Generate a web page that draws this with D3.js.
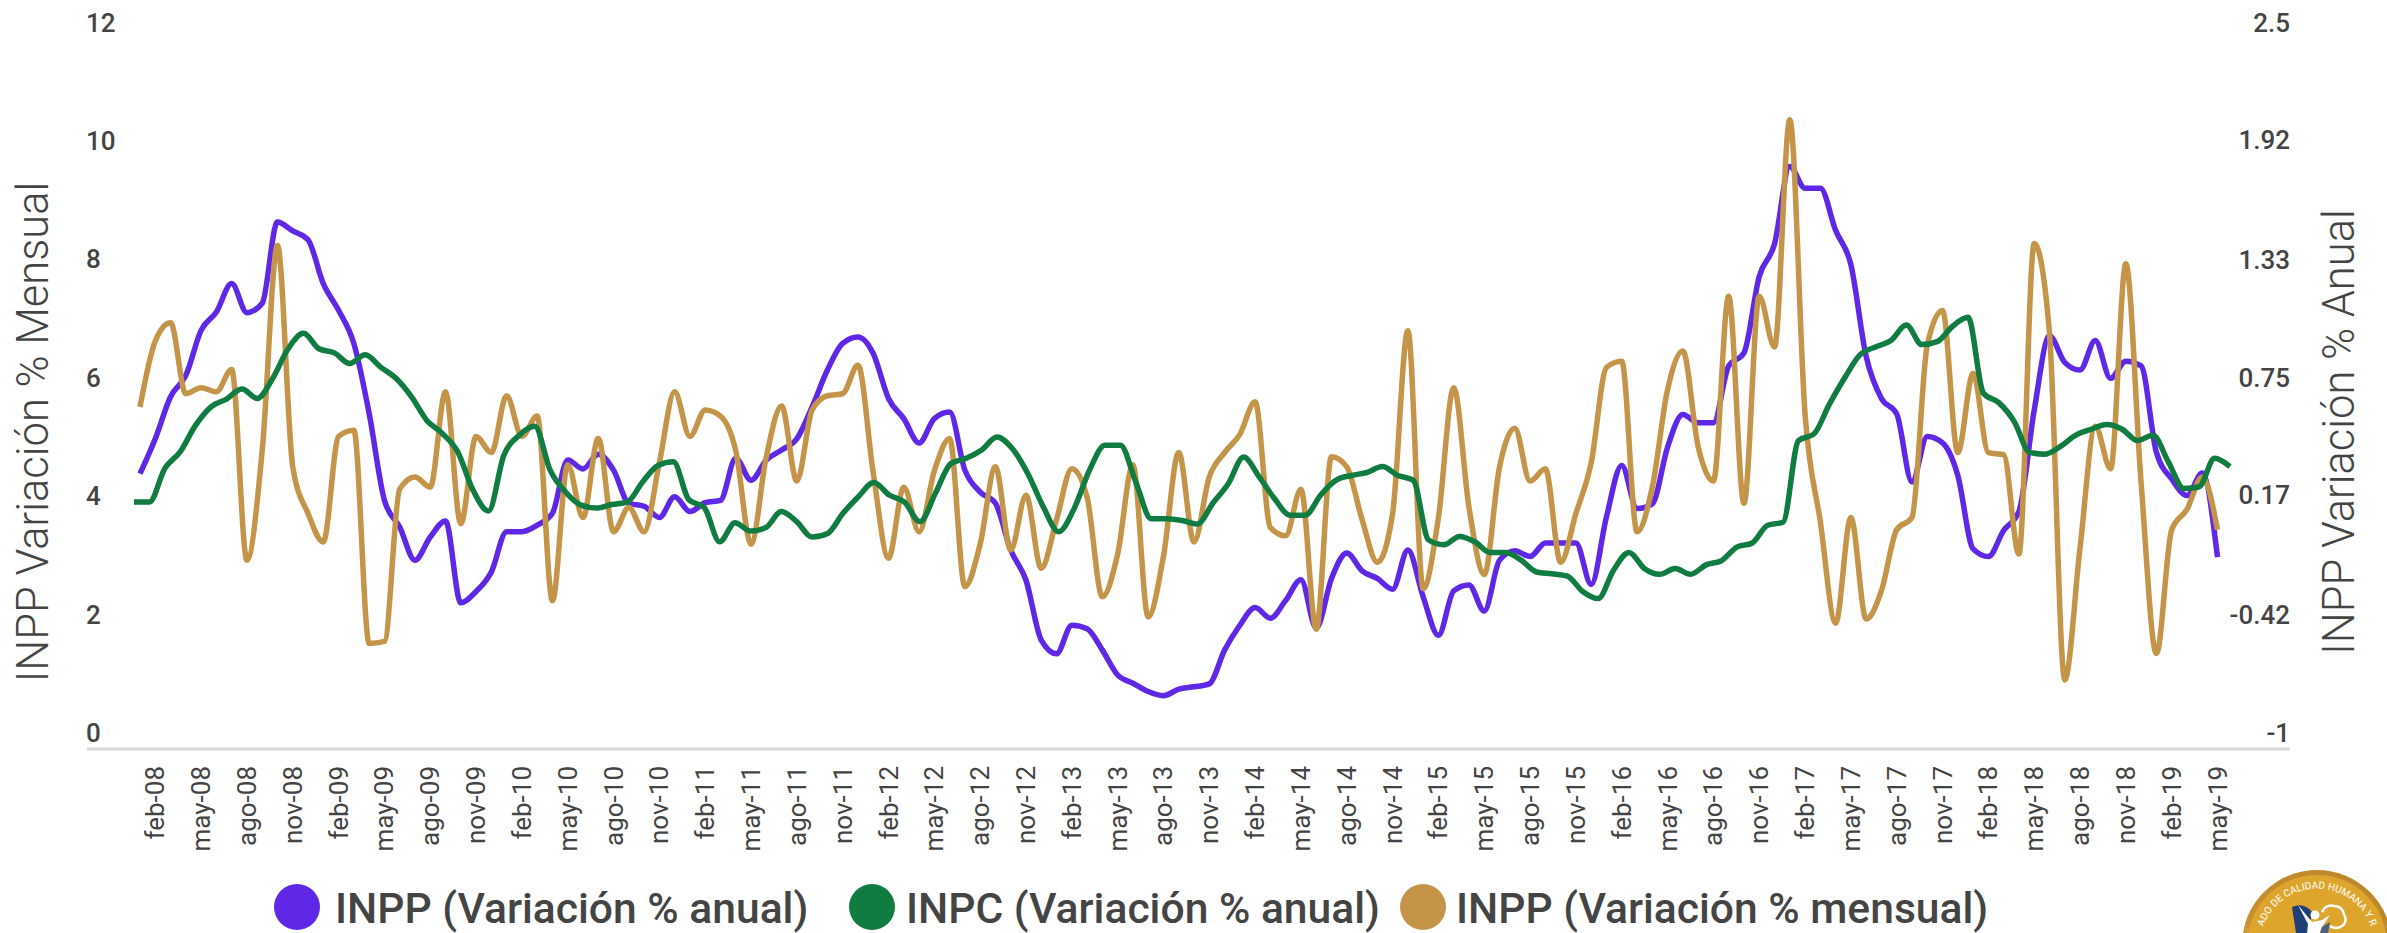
<!DOCTYPE html>
<html><head><meta charset="utf-8">
<script src="https://cdnjs.cloudflare.com/ajax/libs/d3/7.8.5/d3.min.js"></script>
<style>html,body{margin:0;padding:0;background:#fff;overflow:hidden}svg{display:block}text{font-family:Roboto,sans-serif}</style>
</head><body><svg id="c" width="2387" height="933"></svg>
<script>
const monthNames = ["ene","feb","mar","abr","may","jun","jul","ago","sep","oct","nov","dic"];
const startYear = 2008;
const inppAnual = [4.65,5.24,5.95,6.31,7.07,7.38,7.86,7.37,7.53,8.90,8.75,8.60,7.86,7.41,6.85,5.67,4.20,3.75,3.19,3.58,3.85,2.47,2.66,2.99,3.67,3.67,3.78,3.98,4.88,4.73,4.98,4.71,4.15,4.10,3.91,4.26,4.01,4.16,4.20,4.91,4.54,4.88,5.05,5.24,5.78,6.40,6.85,6.96,6.68,5.92,5.58,5.17,5.58,5.69,4.71,4.34,4.15,3.36,2.85,1.84,1.61,2.09,2.03,1.67,1.25,1.11,0.97,0.90,1.01,1.05,1.10,1.67,2.09,2.39,2.21,2.51,2.86,2.04,2.88,3.31,3.01,2.88,2.70,3.36,2.57,1.92,2.67,2.77,2.33,3.19,3.35,3.25,3.48,3.48,3.48,2.78,3.92,4.79,4.06,4.14,5.10,5.65,5.51,5.51,6.47,6.69,7.98,8.53,9.84,9.47,9.47,8.76,8.18,6.63,5.92,5.66,4.51,5.28,5.17,4.62,3.38,3.25,3.69,4.01,5.72,6.98,6.53,6.40,6.90,6.26,6.55,6.47,5.01,4.56,4.28,4.66,3.24];
const inpcAnual = [4.17,4.17,4.74,5.02,5.47,5.78,5.91,6.08,5.92,6.26,6.76,7.02,6.76,6.69,6.51,6.66,6.45,6.26,5.95,5.55,5.33,5.02,4.37,4.02,4.96,5.30,5.45,4.71,4.34,4.12,4.07,4.13,4.17,4.51,4.79,4.85,4.21,4.08,3.50,3.82,3.68,3.74,4.01,3.84,3.58,3.64,3.98,4.26,4.50,4.29,4.17,3.84,4.32,4.82,4.91,5.05,5.27,5.07,4.65,4.09,3.67,4.06,4.71,5.13,5.13,4.51,3.89,3.89,3.86,3.80,4.15,4.48,4.93,4.60,4.23,3.95,3.95,4.29,4.54,4.62,4.67,4.77,4.62,4.54,3.53,3.45,3.59,3.50,3.32,3.32,3.19,2.99,2.96,2.92,2.66,2.54,3.02,3.32,3.05,2.95,3.05,2.95,3.11,3.18,3.41,3.48,3.78,3.83,5.21,5.32,5.82,6.27,6.66,6.79,6.90,7.16,6.83,6.88,7.14,7.29,6.01,5.85,5.53,5.01,4.98,5.11,5.30,5.40,5.48,5.40,5.21,5.30,4.85,4.40,4.43,4.91,4.77];
const inppMensual = [0.685,1.01,1.10,0.75,0.78,0.76,0.87,-0.07,0.47,1.48,0.39,0.16,0.02,0.54,0.57,-0.48,-0.47,0.28,0.34,0.29,0.76,0.11,0.54,0.46,0.74,0.54,0.64,-0.27,0.40,0.14,0.53,0.07,0.19,0.07,0.41,0.76,0.54,0.67,0.64,0.47,0.01,0.44,0.69,0.32,0.67,0.74,0.75,0.89,0.36,-0.06,0.29,0.07,0.37,0.53,-0.20,0.01,0.39,-0.02,0.25,-0.11,0.13,0.38,0.24,-0.25,-0.04,0.40,-0.35,-0.05,0.46,0.02,0.34,0.46,0.55,0.71,0.09,0.05,0.28,-0.41,0.44,0.39,0.13,-0.08,0.16,1.06,-0.21,0.14,0.78,0.19,-0.14,0.39,0.58,0.32,0.38,-0.08,0.16,0.41,0.88,0.91,0.07,0.29,0.77,0.96,0.49,0.32,1.23,0.21,1.23,0.98,2.10,0.65,0.12,-0.38,0.14,-0.36,-0.22,0.08,0.14,0.99,1.16,0.46,0.85,0.46,0.45,-0.04,1.49,1.05,-0.66,-0.01,0.59,0.38,1.39,0.31,-0.53,0.08,0.18,0.34,0.08];
const leftTicks = [0,2,4,6,8,10,12];
const rightTicks = [-1,-0.42,0.17,0.75,1.33,1.92,2.5];
const rightDomain = [-1,2.5];
const legendNames = ["INPP (Variación % anual)","INPC (Variación % anual)","INPP (Variación % mensual)"];
const colors = ["#5F27E6","#107C41","#C49549"];

const svg = d3.select("#c");
const m = {left:87,right:2290,base:749,top:38.5};
const xP = d3.scaleLinear().domain([0,inppAnual.length-1]).range([140,2217.5]);
const xG = d3.scaleLinear().domain([0,inpcAnual.length-1]).range([134,2230]);
const yL = d3.scaleLinear().domain([0,12]).range([m.base,m.top]);
const yR = d3.scaleLinear().domain(rightDomain).range([m.base,m.top]);
const dates = inppAnual.map((_,i)=>{const mo=i%12;const yr=startYear+Math.floor(i/12);return monthNames[mo]+"-"+String(yr).slice(2)});
const xTickIdx = dates.map((_,i)=>i).filter(i=>i%3===1);

svg.append("line").attr("x1",m.left).attr("x2",m.right).attr("y1",m.base).attr("y2",m.base).attr("stroke","#d9d9d9").attr("stroke-width",3);

const tickCol="#444";
svg.append("g").selectAll("text").data(leftTicks).join("text").attr("x",m.left-1).attr("y",d=>yL(d)-7).attr("fill",tickCol).attr("font-size",26).attr("font-weight",500).text(d=>d);
svg.append("g").selectAll("text").data(rightTicks).join("text").attr("x",m.right).attr("y",d=>yR(d)-7).attr("text-anchor","end").attr("fill",tickCol).attr("font-size",26).attr("font-weight",500).text(d=>d);

svg.append("g").selectAll("text").data(xTickIdx).join("text")
 .attr("transform",i=>`translate(${xP(i)+9},766) rotate(-90)`).attr("text-anchor","end").attr("fill",tickCol).attr("font-size",26).text(i=>dates[i]);

svg.append("text").attr("transform","translate(48,432) rotate(-90)").attr("text-anchor","middle").attr("font-size",43.5).attr("font-weight",300).attr("fill","#444").text("INPP Variación % Mensual");
svg.append("text").attr("transform","translate(2354,432) rotate(-90)").attr("text-anchor","middle").attr("font-size",43.5).attr("font-weight",300).attr("fill","#444").text("INPP Variación % Anual");

const line=(x,y)=>d3.line().x((d,i)=>x(i)).y(d=>y(d)).curve(d3.curveMonotoneX);
const series=[[inppAnual,xP,yL,colors[0]],[inppMensual,xP,yR,colors[2]],[inpcAnual,xG,yL,colors[1]]];
svg.append("g").attr("fill","none").attr("stroke-width",5.5).selectAll("path").data(series).join("path")
 .attr("stroke",d=>d[3]).attr("d",d=>line(d[1],d[2])(d[0]));

const legX=[[297,335],[872,906],[1423,1456]];
const lg=svg.append("g");
legendNames.forEach((n,i)=>{
 lg.append("circle").attr("cx",legX[i][0]).attr("cy",907).attr("r",23).attr("fill",colors[i]);
 lg.append("text").attr("x",legX[i][1]).attr("y",923).attr("font-size",42.6).attr("font-weight",500).attr("fill","#444").text(n);
});

// badge
const b=svg.append("g");
const defs=svg.append("defs");
defs.append("path").attr("id","arc").attr("d","M2261,935 A57,57 0 0 1 2373,935");
const grad=defs.append("linearGradient").attr("id","rim").attr("x1","0").attr("x2","1").attr("y1","1").attr("y2","0");
grad.append("stop").attr("offset","0").attr("stop-color","#f6e7c8");
grad.append("stop").attr("offset","0.35").attr("stop-color","#c98f2d");
grad.append("stop").attr("offset","1").attr("stop-color","#b9852c");
b.append("circle").attr("cx",2317).attr("cy",945).attr("r",75).attr("fill","url(#rim)");
b.append("circle").attr("cx",2317).attr("cy",945).attr("r",70).attr("fill","#DDA52C");
b.append("text").attr("font-size",10).attr("fill","#fff").append("textPath").attr("href","#arc").attr("startOffset","50%").attr("text-anchor","middle").text("ADO DE CALIDAD HUMANA Y R");
b.append("path").attr("d","M2292,907 Q2304,902 2312,912 L2308,933 L2296,933 Z").attr("fill","#1f3f78");
b.append("path").attr("d","M2298,905 L2312,922 L2322,920 L2330,915 L2322,927 L2320,933 L2307,933 L2308,924 Z").attr("fill","#fff");
b.append("circle").attr("cx",2315).attr("cy",915).attr("r",4.5).attr("fill","#fff");
b.append("path").attr("d","M2322,912 Q2326,904 2334,906 Q2342,906 2344,914 Q2348,922 2342,926 Q2336,930 2330,926").attr("fill","none").attr("stroke","#fff").attr("stroke-width",2.5);
b.append("path").attr("d","M2322,927 L2330,922 L2328,933 L2320,933 Z").attr("fill","#4d5f80");
</script></body></html>
